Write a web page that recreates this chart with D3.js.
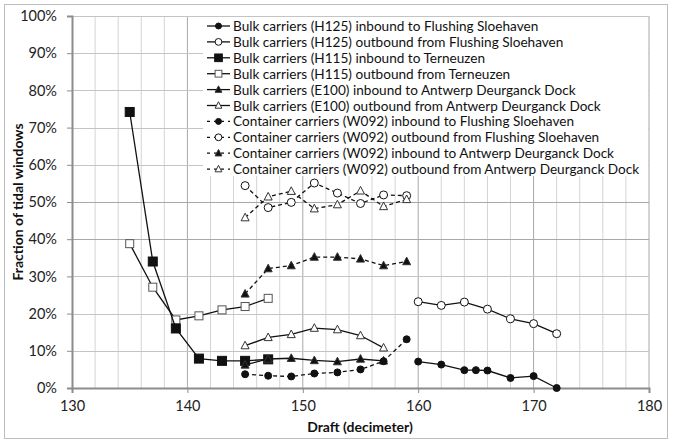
<!DOCTYPE html>
<html><head><meta charset="utf-8">
<script src="https://cdn.jsdelivr.net/npm/d3@7"></script>
<style>body{margin:0;background:#fff}svg{display:block}</style>
</head><body><svg id="c" width="674" height="447"></svg>
<script>
const xTicks = [130,140,150,160,170,180];
const yTicks = [0,0.1,0.2,0.3,0.4,0.5,0.6,0.7,0.8,0.9,1.0];

const seriesNames = [
  "Bulk carriers (H125) inbound to Flushing Sloehaven",
  "Bulk carriers (H125) outbound from Flushing Sloehaven",
  "Bulk carriers (H115) inbound to Terneuzen",
  "Bulk carriers (H115) outbound from Terneuzen",
  "Bulk carriers (E100) inbound to Antwerp Deurganck Dock",
  "Bulk carriers (E100) outbound from Antwerp Deurganck Dock",
  "Container carriers (W092) inbound to Flushing Sloehaven",
  "Container carriers (W092) outbound from Flushing Sloehaven",
  "Container carriers (W092) inbound to Antwerp Deurganck Dock",
  "Container carriers (W092) outbound from Antwerp Deurganck Dock"
];
const seriesMarkers = ["circleF","circleO","squareF","squareO","triF","triO","circleF","circleO","triF","triO"];
const seriesDashed = [false,false,false,false,false,false,true,true,true,true];

const h125InX = [160,162,164,165,166,168,170,172];
const h125InY = [0.071,0.063,0.048,0.048,0.047,0.027,0.032,0.0];
const h125OutX = [160,162,164,166,168,170,172];
const h125OutY = [0.232,0.222,0.231,0.212,0.186,0.173,0.146];
const h115InX = [135,137,139,141,143,145,147];
const h115InY = [0.742,0.340,0.160,0.079,0.073,0.073,0.077];
const h115OutX = [135,137,139,141,143,145,147];
const h115OutY = [0.388,0.271,0.183,0.194,0.210,0.219,0.241];
const e100InX = [145,147,149,151,153,155,157];
const e100InY = [0.062,0.078,0.080,0.074,0.071,0.078,0.073];
const e100OutX = [145,147,149,151,153,155,157];
const e100OutY = [0.114,0.136,0.144,0.161,0.157,0.141,0.108];
const w092InFX = [145,147,149,151,153,155,157,159];
const w092InFY = [0.037,0.033,0.031,0.039,0.042,0.050,0.072,0.131];
const w092OutFX = [145,147,149,151,153,155,157,159];
const w092OutFY = [0.544,0.485,0.499,0.551,0.524,0.496,0.519,0.517];
const w092InAX = [145,147,149,151,153,155,157,159];
const w092InAY = [0.253,0.321,0.329,0.352,0.352,0.347,0.329,0.340];
const w092OutAX = [145,147,149,151,153,155,157,159];
const w092OutAY = [0.458,0.514,0.529,0.482,0.493,0.530,0.488,0.507];

const seriesX = [h125InX,h125OutX,h115InX,h115OutX,e100InX,e100OutX,w092InFX,w092OutFX,w092InAX,w092OutAX];
const seriesY = [h125InY,h125OutY,h115InY,h115OutY,e100InY,e100OutY,w092InFY,w092OutFY,w092InAY,w092OutAY];

const svg = d3.select("#c");
const FONT = "Lato, 'Open Sans', sans-serif";
const x = d3.scaleLinear().domain([130,180]).range([72,649]);
const y = d3.scaleLinear().domain([0,1]).range([388,16]);

// outer border
svg.append("rect").attr("x",4.5).attr("y",4.5).attr("width",663).attr("height",434)
  .attr("fill","#fff").attr("stroke","#bdbdbd").attr("stroke-width",1);

// gridlines
const minorX = d3.range(132,181,2);
svg.append("g").selectAll("line").data(minorX).join("line")
  .attr("x1",d=>x(d)).attr("x2",d=>x(d)).attr("y1",y(0)).attr("y2",y(1))
  .attr("stroke",d=>d%10===0?"#a8a8a8":"#d4d4d4").attr("stroke-width",1);
svg.append("g").selectAll("line").data(yTicks.slice(1)).join("line")
  .attr("x1",x(130)).attr("x2",x(180)).attr("y1",d=>Math.round(y(d))+0.5).attr("y2",d=>Math.round(y(d))+0.5)
  .attr("stroke",d=>(Math.abs(d-0.4)<1e-6||Math.abs(d-0.5)<1e-6)?"#a8a8a8":"#c4c4c4").attr("stroke-width",1);

// axes
const xAxis = d3.axisBottom(x).tickValues(xTicks).tickSize(5).tickPadding(8);
const gx = svg.append("g").attr("transform",`translate(0,${y(0)})`).call(xAxis);
gx.select(".domain").attr("stroke","#8c8c8c").attr("stroke-width",2);
gx.selectAll(".tick line").attr("stroke","#8c8c8c");
gx.selectAll("text").attr("font-family",FONT).attr("font-size",14.5).attr("fill","#222");

const yAxis = d3.axisLeft(y).tickValues(yTicks).tickFormat(d3.format(".0%")).tickSize(5).tickPadding(10);
const gy = svg.append("g").attr("transform",`translate(${x(130)},0)`).call(yAxis);
gy.select(".domain").attr("stroke","#8c8c8c").attr("stroke-width",2);
gy.selectAll(".tick line").attr("stroke","#8c8c8c");
gy.selectAll("text").attr("font-family",FONT).attr("font-size",14.5).attr("fill","#222");

// titles
svg.append("text").attr("x",360).attr("y",432).attr("text-anchor","middle")
  .attr("font-family",FONT).attr("font-weight","bold").attr("font-size",14).attr("fill","#111")
  .text("Draft (decimeter)");
svg.append("text").attr("transform","translate(23,202) rotate(-90)").attr("text-anchor","middle")
  .attr("font-family",FONT).attr("font-weight","bold").attr("font-size",14).attr("fill","#111")
  .text("Fraction of tidal windows");

// marker drawing
function marker(g, type, cx, cy, scale) {
  scale = scale || 1;
  if (type==="circleF" || type==="circleO") {
    g.append("circle").attr("cx",cx).attr("cy",cy).attr("r",(type==="circleF"?3.5:4)*scale)
      .attr("fill",type==="circleF"?"#111":"#fff").attr("stroke","#111").attr("stroke-width",1);
  } else if (type==="squareF" || type==="squareO") {
    const s = (type==="squareF"?9:8)*scale;
    g.append("rect").attr("x",cx-s/2).attr("y",cy-s/2).attr("width",s).attr("height",s)
      .attr("fill",type==="squareF"?"#111":"#fff").attr("stroke",type==="squareF"?"#111":"#555").attr("stroke-width",1);
  } else {
    const s = 8*scale;
    const pts = [[cx,cy-s*0.55],[cx+s/2,cy+s*0.4],[cx-s/2,cy+s*0.4]];
    g.append("polygon").attr("points",pts.map(p=>p.join(",")).join(" "))
      .attr("fill",type==="triF"?"#111":"#fff").attr("stroke","#333").attr("stroke-width",1);
  }
}

const line = d3.line().x(d=>x(d[0])).y(d=>y(d[1]));
const plot = svg.append("g");
const order = [1,3,5,0,2,4,6,7,8,9];
order.forEach(i=>{
  const data = seriesX[i].map((v,j)=>[v,seriesY[i][j]]);
  const g = plot.append("g");
  g.append("path").attr("d",line(data)).attr("fill","none").attr("stroke","#111")
    .attr("stroke-width",1.3).attr("stroke-dasharray",seriesDashed[i]?"4,3":null);
  data.forEach(d=>marker(g, seriesMarkers[i], x(d[0]), y(d[1])));
});

// legend
const lg = svg.append("g");
lg.append("rect").attr("x",203).attr("y",17).attr("width",445).attr("height",159).attr("fill","#fff");
seriesNames.forEach((name,i)=>{
  const cy = 26 + i*15.9;
  const row = lg.append("g");
  row.append("line").attr("x1",207).attr("x2",230).attr("y1",cy).attr("y2",cy)
    .attr("stroke","#111").attr("stroke-width",1.3).attr("stroke-dasharray",seriesDashed[i]?"3,4":null);
  marker(row, seriesMarkers[i], 218.5, cy, 0.85);
  row.append("text").attr("x",233).attr("y",cy+5).attr("font-family",FONT).attr("font-size",13.6)
    .attr("fill","#111").text(name);
});
</script></body></html>
